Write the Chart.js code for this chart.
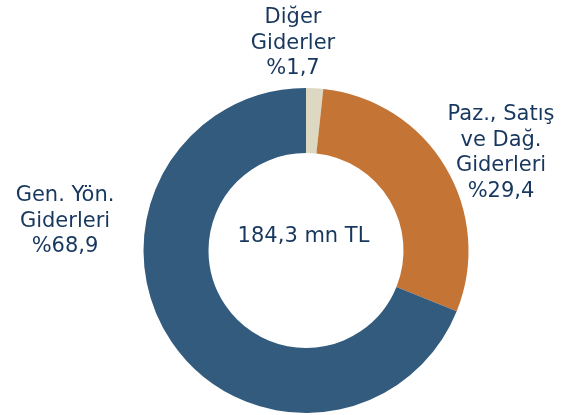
<!DOCTYPE html>
<html>
<head>
<meta charset="utf-8">
<script src="https://cdn.jsdelivr.net/npm/chart.js@4"></script>
<style>
  html, body { margin: 0; padding: 0; background: #fff; }
  #wrap { width: 564px; height: 415px; position: relative; }
</style>
</head>
<body>
<div id="wrap"><canvas id="costchart"></canvas></div>
<script>
//Categories and shares (%), clockwise from the top
var categories = ['Diğer Giderler', 'Paz., Satış ve Dağ. Giderleri', 'Gen. Yön. Giderleri'];
var shares = [1.7, 29.4, 68.9];
var colors = ['#DDD8C1', '#C47535', '#335B7D'];
//Label lines shown next to each slice
var labelLines = [
  ['Diğer', 'Giderler', '%1,7'],
  ['Paz., Satış', 've Dağ.', 'Giderleri', '%29,4'],
  ['Gen. Yön.', 'Giderleri', '%68,9']
];
var totalText = '184,3 mn TL';

var textColor = '#17375E';
var font = '21px "DejaVu Sans", Verdana, sans-serif';

//where each label block sits (center x, first baseline y)
var labelPos = [
  { x: 293, y: 23 },
  { x: 501, y: 120 },
  { x: 65, y: 201 }
];
var lineGap = 25.7;

//plugin that writes the slice labels and the total in the middle
var labelPlugin = {
  id: 'sliceLabels',
  afterDraw: function (chart) {
    var c = chart.ctx;
    c.save();
    c.font = font;
    c.fillStyle = textColor;
    c.textAlign = 'center';
    c.textBaseline = 'alphabetic';
    labelLines.forEach(function (lines, i) {
      lines.forEach(function (line, j) {
        c.fillText(line, labelPos[i].x, labelPos[i].y + j * lineGap);
      });
    });
    c.fillText(totalText, 303.5, 242);
    c.restore();
  }
};

const ctx = document.getElementById('costchart');

new Chart(ctx, {
  type: 'doughnut',
  data: {
    labels: categories,
    datasets: [{
      data: shares,
      backgroundColor: colors,
      borderWidth: 0
    }]
  },
  options: {
    responsive: true,
    maintainAspectRatio: false,
    animation: false,
    cutout: '60%',
    layout: {
      padding: { top: 88, bottom: 2, left: 143.5, right: 95.5 }
    },
    plugins: {
      legend: { display: false },
      tooltip: { enabled: false }
    }
  },
  plugins: [labelPlugin]
});
</script>
</body>
</html>
